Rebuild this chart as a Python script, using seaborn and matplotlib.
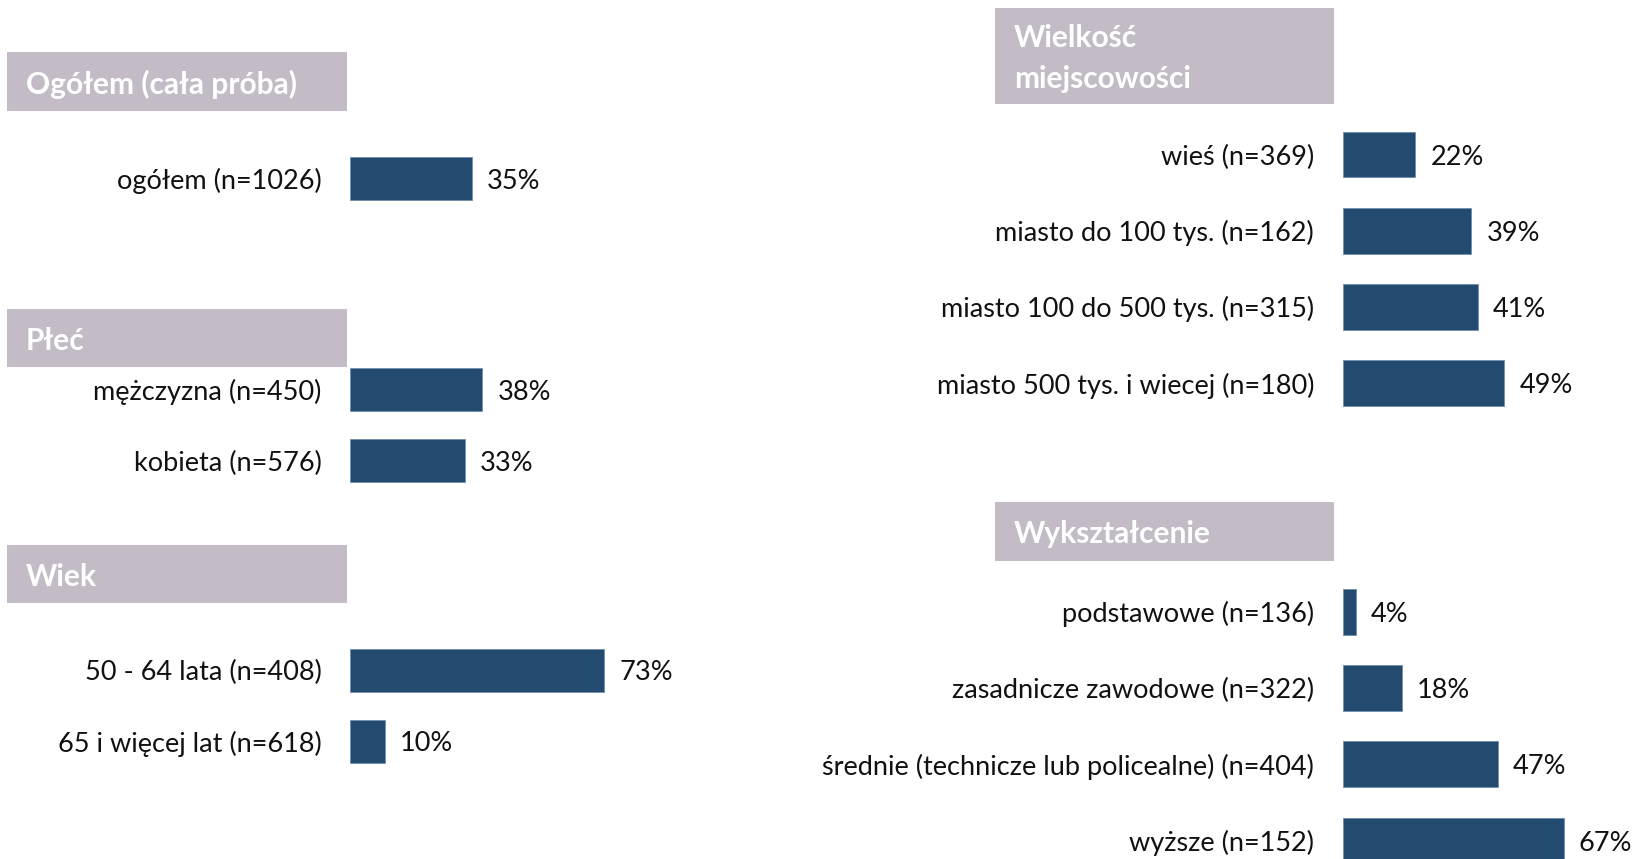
import matplotlib
matplotlib.use("Agg")
import matplotlib.pyplot as plt
from matplotlib.patches import Rectangle
import seaborn as sns

sns.set_theme(style="white")
plt.rcParams["font.family"] = ["Lato", "DejaVu Sans"]

# data
ogolem_labels = ["ogółem (n=1026)"]
ogolem_values = [35]

plec_labels = ["mężczyzna (n=450)", "kobieta (n=576)"]
plec_values = [38, 33]

wiek_labels = ["50 - 64 lata (n=408)", "65 i więcej lat (n=618)"]
wiek_values = [73, 10]

miejsc_labels = ["wieś (n=369)", "miasto do 100 tys. (n=162)",
                 "miasto 100 do 500 tys. (n=315)", "miasto 500 tys. i wiecej (n=180)"]
miejsc_values = [22, 39, 41, 49]

wykszt_labels = ["podstawowe (n=136)", "zasadnicze zawodowe (n=322)",
                 "średnie (technicze lub policealne) (n=404)", "wyższe (n=152)"]
wykszt_values = [4, 18, 47, 67]

headers = ["Ogółem (cała próba)", "Płeć", "Wiek", "Wielkość\nmiejscowości", "Wykształcenie"]

W, H = 1637, 859
BAR = "#234A6F"
HEAD = "#C3BCC7"
FS = 19.5
HFS = 21.5

fig = plt.figure(figsize=(W / 100, H / 100), dpi=100)


def group(labels, values, x0, first_center, spacing, px_per_pct):
    n = len(labels)
    top = first_center - spacing / 2
    height = n * spacing
    xmax = 100
    ax = fig.add_axes([x0 / W, (H - top - height) / H, xmax * px_per_pct / W, height / H])
    sns.barplot(x=values, y=labels, ax=ax, color=BAR, width=0.6,
                orient="h", saturation=1, edgecolor="#6f8fae", linewidth=0.6)
    ax.set_xlim(0, xmax)
    ax.set_ylim(n - 0.5, -0.5)
    for s in ax.spines.values():
        s.set_visible(False)
    ax.set_xticks([])
    ax.set_xlabel("")
    ax.set_ylabel("")
    ax.tick_params(axis="y", length=0, pad=20.5, labelsize=FS, labelcolor="#111111")
    ax.patch.set_alpha(0)
    for p, v in zip(ax.patches, values):
        ax.annotate(f"{v}%", (p.get_x() + p.get_width(), p.get_y() + p.get_height() / 2),
                    xytext=(11, -2), textcoords="offset points",
                    ha="left", va="center", fontsize=FS, color="#111111",
                    annotation_clip=False)
    return ax


def header(text, x0, x1, y0, y1):
    fig.add_artist(Rectangle((x0 / W, 1 - y1 / H), (x1 - x0) / W, (y1 - y0) / H,
                             transform=fig.transFigure, facecolor=HEAD,
                             edgecolor="none"))
    fig.text((x0 + 19) / W, 1 - ((y0 + y1) / 2 + 2.5) / H, text, color="white",
             fontsize=HFS, fontweight="bold", va="center", ha="left",
             linespacing=1.55)


# left column
header(headers[0], 7, 347, 52, 111)
group(ogolem_labels, ogolem_values, 350, 178.5, 71, 3.476)

header(headers[1], 7, 347, 309, 367)
group(plec_labels, plec_values, 350, 389.5, 71, 3.476)

header(headers[2], 7, 347, 545, 603)
group(wiek_labels, wiek_values, 350, 670.2, 71, 3.476)

# right column
header(headers[3], 995, 1334, 8, 104)
group(miejsc_labels, miejsc_values, 1342.6, 154.5, 76.2, 3.30)

header(headers[4], 995, 1334, 502, 561)
group(wykszt_labels, wykszt_values, 1342.6, 611.8, 76.2, 3.30)

fig.savefig("out.png", dpi=100)
